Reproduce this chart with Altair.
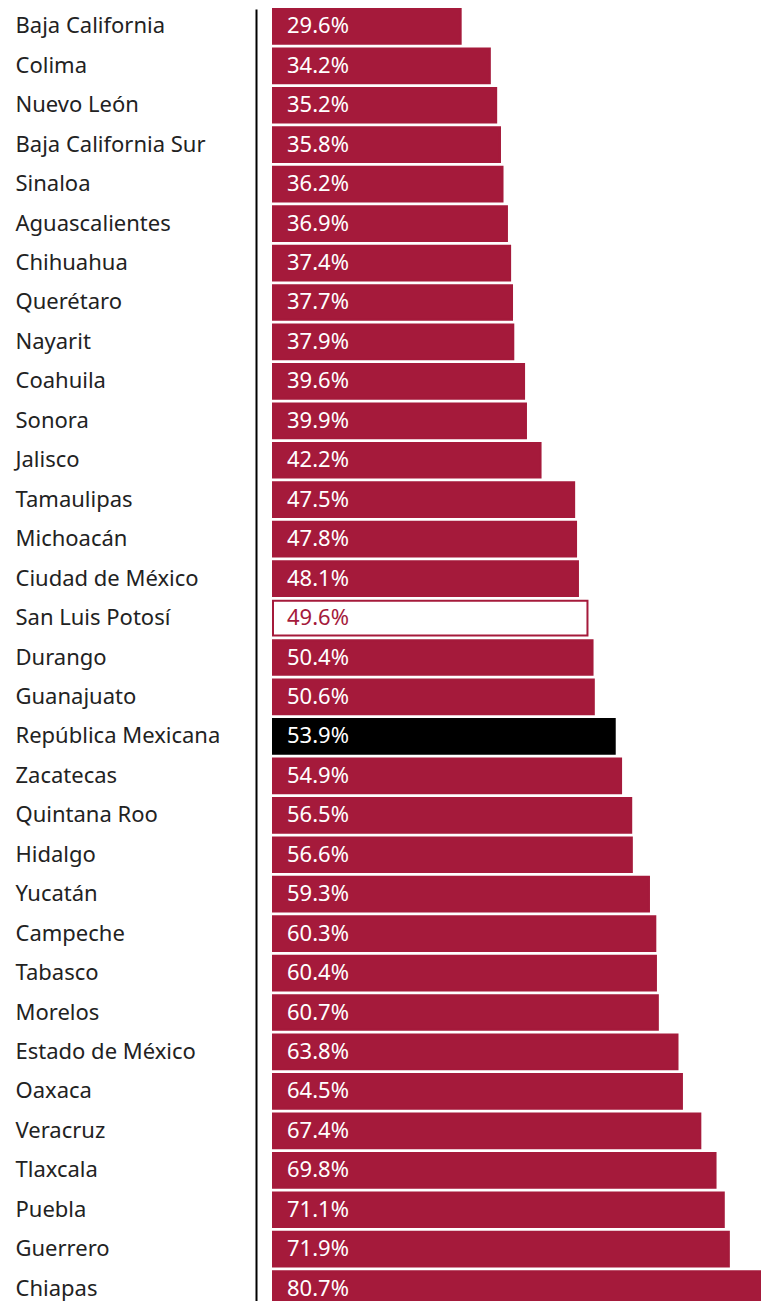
import altair as alt
import pandas as pd

states = ["Baja California", "Colima", "Nuevo León", "Baja California Sur", "Sinaloa",
          "Aguascalientes", "Chihuahua", "Querétaro", "Nayarit", "Coahuila", "Sonora",
          "Jalisco", "Tamaulipas", "Michoacán", "Ciudad de México", "San Luis Potosí",
          "Durango", "Guanajuato", "República Mexicana", "Zacatecas", "Quintana Roo",
          "Hidalgo", "Yucatán", "Campeche", "Tabasco", "Morelos", "Estado de México",
          "Oaxaca", "Veracruz", "Tlaxcala", "Puebla", "Guerrero", "Chiapas"]
values = [29.6, 34.2, 35.2, 35.8, 36.2, 36.9, 37.4, 37.7, 37.9, 39.6, 39.9, 42.2, 47.5,
          47.8, 48.1, 49.6, 50.4, 50.6, 53.9, 54.9, 56.5, 56.6, 59.3, 60.3, 60.4, 60.7,
          63.8, 64.5, 67.4, 69.8, 71.1, 71.9, 80.7]

kind = ["highlight" if s == "San Luis Potosí" else "nation" if s == "República Mexicana" else "state"
        for s in states]
df = pd.DataFrame({"estado": states, "valor": values, "tipo": kind,
                   "etiqueta": [f"{v:.1f}%" for v in values]})

CRIMSON = "#A51A3B"
FONT = "Noto Sans"
FS = 22

yscale = alt.Scale(paddingInner=0.12, paddingOuter=0, range=[0, 1297])
y = alt.Y("estado:N", sort=None, scale=yscale,
          axis=alt.Axis(title=None, labelAlign="left", labelPadding=241, tickSize=0, ticks=False,
                        offset=17, domainColor="#000000", domainWidth=2, labelLimit=0,
                        labelFont=FONT, labelFontSize=FS, labelColor="#222222",
                        labelBaseline="middle"))
x = alt.X("valor:Q", scale=alt.Scale(domain=[0, 76.97], nice=False, zero=True),
          axis=None)

bars = alt.Chart(df).mark_bar(strokeWidth=2).encode(
    y=y, x=x,
    fill=alt.Fill("tipo:N", scale=alt.Scale(domain=["state", "highlight", "nation"],
                                            range=[CRIMSON, "#ffffff", "#000000"]), legend=None),
    stroke=alt.Stroke("tipo:N", scale=alt.Scale(domain=["state", "highlight", "nation"],
                                                range=[CRIMSON, CRIMSON, "#000000"]), legend=None),
)

labels = alt.Chart(df).mark_text(align="left", baseline="middle", dx=14, font=FONT,
                                 fontSize=FS).encode(
    y=alt.Y("estado:N", sort=None),
    x=alt.datum(0),
    text="etiqueta:N",
    color=alt.Color("tipo:N", scale=alt.Scale(domain=["state", "highlight", "nation"],
                                              range=["#ffffff", CRIMSON, "#ffffff"]), legend=None),
)

chart = alt.layer(bars, labels).resolve_scale(color="independent").properties(
    width=488, height=1296,
    autosize=alt.AutoSizeParams(type="none"),
    padding={"left": 265, "top": 1, "right": 0, "bottom": 0},
).configure_view(stroke=None)

chart.save("out.html", embed_options={"renderer": "svg", "actions": False})
